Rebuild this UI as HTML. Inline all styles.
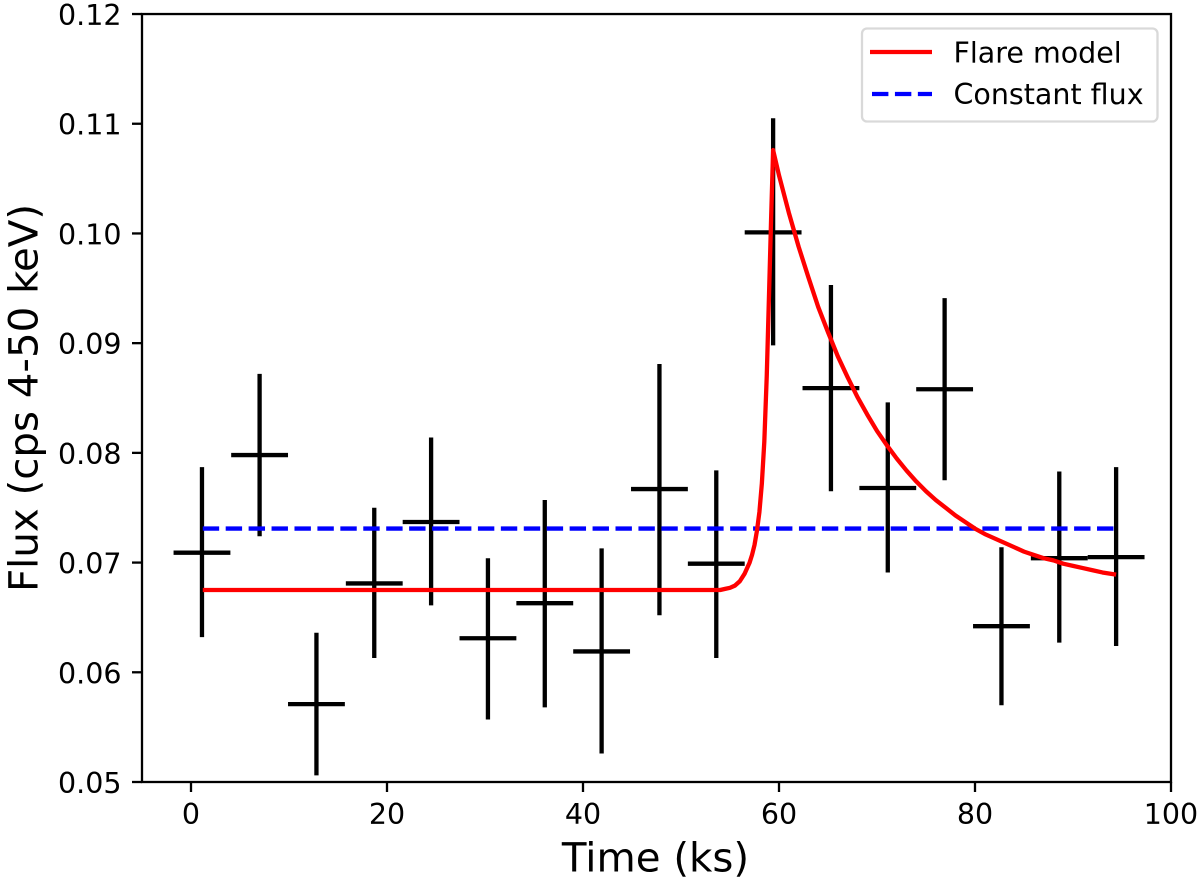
<!DOCTYPE html>
<html>
<head>
<meta charset="utf-8">
<style>
html,body{margin:0;padding:0;background:#fff;}
svg{display:block;}
text{font-family:"DejaVu Sans","Liberation Sans",sans-serif;fill:#000;}
</style>
</head>
<body>
<svg id="chart" xmlns="http://www.w3.org/2000/svg" width="1200" height="882" viewBox="0 0 1200 882"></svg>
<script>
const xTicks = [0, 20, 40, 60, 80, 100];
const yTicks = [0.05, 0.06, 0.07, 0.08, 0.09, 0.10, 0.11, 0.12];
const yTickLabels = ["0.05", "0.06", "0.07", "0.08", "0.09", "0.10", "0.11", "0.12"];
const binTimes = [1.12, 7.0, 12.8, 18.7, 24.5, 30.3, 36.1, 41.9, 47.8, 53.6, 59.4, 65.3, 71.1, 76.9, 82.7, 88.6, 94.4];
const binHalfWidth = 2.9;
const fluxValues = [0.0709, 0.0798, 0.0571, 0.0681, 0.0737, 0.0631, 0.0663, 0.0619, 0.0767, 0.0699, 0.1001, 0.0859, 0.0768, 0.0858, 0.0642, 0.0704, 0.0705];
const fluxUpper = [0.0787, 0.0872, 0.0636, 0.0750, 0.0814, 0.0704, 0.0757, 0.0713, 0.0881, 0.0784, 0.1105, 0.0953, 0.0846, 0.0941, 0.0714, 0.0783, 0.0787];
const fluxLower = [0.0632, 0.0724, 0.0506, 0.0613, 0.0661, 0.0557, 0.0568, 0.0526, 0.0652, 0.0613, 0.0898, 0.0765, 0.0691, 0.0775, 0.0570, 0.0627, 0.0624];
const modelTimes = [1.2, 20, 40, 54, 54.5, 55, 55.5, 56, 56.5, 57, 57.25, 57.5, 57.75, 58, 58.25, 58.5, 58.75, 59, 59.2, 59.4, 60, 61, 62, 63, 64, 65, 66, 67, 68, 69, 70, 71, 72, 73, 74, 75, 76, 77, 78, 79, 80, 81, 82, 83, 84, 85, 86, 87, 88, 89, 90, 91, 92, 93, 94.4];
const modelFlux = [0.0675, 0.0675, 0.0675, 0.0675, 0.0676, 0.0677, 0.0679, 0.0683, 0.0690, 0.0700, 0.0707, 0.0716, 0.0729, 0.0746, 0.0772, 0.0810, 0.0870, 0.0950, 0.1015, 0.1076, 0.1053, 0.1019, 0.0988, 0.0960, 0.0933, 0.0910, 0.0888, 0.0869, 0.0851, 0.0835, 0.0820, 0.0807, 0.0795, 0.0784, 0.0774, 0.0765, 0.0757, 0.0750, 0.0743, 0.0737, 0.0731, 0.0726, 0.0722, 0.0718, 0.0714, 0.0710, 0.0707, 0.0704, 0.0702, 0.0699, 0.0697, 0.0695, 0.0693, 0.0691, 0.0689];
const constantFlux = [0.0731, 0.0731];
const constantTimes = [1.2, 94.4];

const NS = "http://www.w3.org/2000/svg";
const svg = document.getElementById("chart");
const xScale = t => 191 + (t - 0) * 9.8;
const yScale = v => 782 - (v - 0.05) * 10971;
const plotLeft = xScale(-5), plotRight = xScale(100), plotTop = yScale(0.12), plotBottom = yScale(0.05);

function mk(tag, attrs, parent) {
  const el = document.createElementNS(NS, tag);
  for (const k in attrs) el.setAttribute(k, attrs[k]);
  (parent || svg).appendChild(el);
  return el;
}

// error bars
const barsGroup = mk("g", {stroke: "#000", "stroke-width": 4.3, fill: "none"});


binTimes.forEach((t, i) => {
  const g = mk("g", {}, barsGroup);
  
  
  mk("line", {x1: xScale(t), x2: xScale(t), y1: yScale(fluxLower[i]), y2: yScale(fluxUpper[i])}, g);
  mk("line", {x1: xScale(t - binHalfWidth), x2: xScale(t + binHalfWidth), y1: yScale(fluxValues[i]), y2: yScale(fluxValues[i])}, g);
});

// constant flux line
const constLine = mk("polyline", {
  points: constantTimes.map((t, i) => xScale(t) + "," + yScale(constantFlux[i])).join(" "),
  fill: "none", stroke: "#0000ff", "stroke-width": 4.3, "stroke-dasharray": "16.4 6.53"
});



// flare model
const flareLine = mk("polyline", {
  points: modelTimes.map((t, i) => xScale(t) + "," + yScale(modelFlux[i])).join(" "),
  fill: "none", stroke: "#ff0000", "stroke-width": 4.3, "stroke-linejoin": "round"
});



// axes frame
const frame = mk("rect", {x: plotLeft, y: plotTop, width: plotRight - plotLeft, height: plotBottom - plotTop, fill: "none", stroke: "#000", "stroke-width": 2.3});



// x ticks
xTicks.forEach(v => {
  const tick = mk("line", {x1: xScale(v), x2: xScale(v), y1: plotBottom, y2: plotBottom + 10, stroke: "#000", "stroke-width": 2.3});
  
  
  const label = mk("text", {x: xScale(v), y: 824, "font-size": 28.5, "text-anchor": "middle"});
  label.textContent = String(v);
  
  
});

// y ticks
yTicks.forEach((v, i) => {
  const tick = mk("line", {x1: plotLeft - 10, x2: plotLeft, y1: yScale(v), y2: yScale(v), stroke: "#000", "stroke-width": 2.3});
  
  
  const label = mk("text", {x: 121.5, y: yScale(v) + 11, "font-size": 28.5, "text-anchor": "end"});
  label.textContent = yTickLabels[i];
  
  
});
</script>
<script>
// static labels and legend, appended after chart marks
(function(){
  const s = document.getElementById("chart");
  s.insertAdjacentHTML("beforeend",
    '<text x="655.5" y="871.7" font-size="40.3" text-anchor="middle">Time (ks)</text>' +
    '<text transform="translate(37.7,398) rotate(-90)" font-size="40.3" text-anchor="middle">Flux (cps 4-50 keV)</text>' +
    '<g>' +
    '<rect x="862" y="28.5" width="295.5" height="93" rx="5" ry="5" fill="#fff" fill-opacity="0.8" stroke="#d9d9d9" stroke-width="2.3"/>' +
    '<line x1="870" x2="932" y1="52" y2="52" stroke="#ff0000" stroke-width="4.3"/>' +
    '<text x="953.5" y="62.5" font-size="28.5">Flare model</text>' +
    '<line x1="872" x2="932" y1="94" y2="94" stroke="#0000ff" stroke-width="4.3" stroke-dasharray="16.4 6.53"/>' +
    '<text x="953.5" y="104" font-size="28.5">Constant flux</text>' +
    '</g>');
})();
</script>
</body>
</html>
